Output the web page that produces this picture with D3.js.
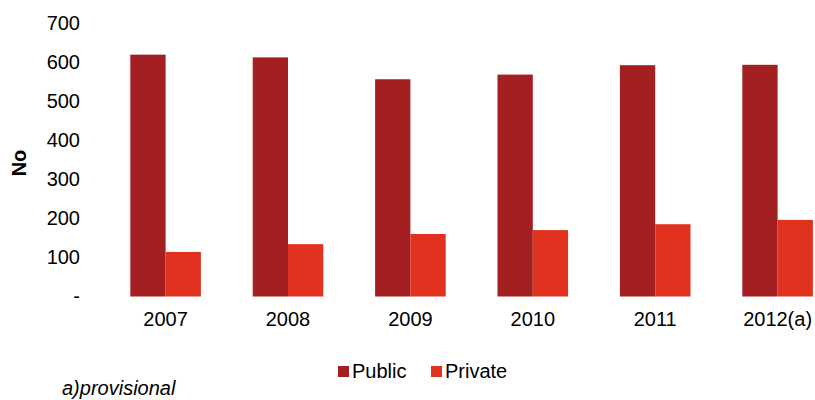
<!DOCTYPE html>
<html>
<head>
<meta charset="utf-8">
<script src="https://cdn.jsdelivr.net/npm/d3@7"></script>
<style>
  html, body { margin: 0; padding: 0; background: #fff; }
  svg { display: block; }
  text { font-family: "Liberation Sans", Arial, sans-serif; fill: #000; }
</style>
</head>
<body>
<svg id="chart" width="815" height="400"></svg>
<script>
const categories = ["2007", "2008", "2009", "2010", "2011", "2012(a)"];
const seriesNames = ["Public", "Private"];
const publicValues = [619, 612, 556, 568, 592, 593];
const privateValues = [114, 134, 160, 170, 185, 196];
const yTicks = [0, 100, 200, 300, 400, 500, 600, 700];
const yTickLabels = ["-", "100", "200", "300", "400", "500", "600", "700"];
const colors = ["#A31F22", "#E0321F"];
const yTitle = "No";
const footnote = "a)provisional";

const svg = d3.select("#chart");
const fontSize = 20;

const x = d3.scaleBand().domain(categories).range([104.4, 838.8]).padding(0);
const xs = d3.scaleBand().domain(seriesNames).range([25.9, 96.5]).padding(0);
const y = d3.scaleLinear().domain([0, 700]).range([296.5, 23]);

const data = categories.map((c, i) => ({ cat: c, vals: [publicValues[i], privateValues[i]] }));

// bars
const groups = svg.append("g").selectAll("g").data(data).join("g")
  .attr("transform", d => `translate(${x(d.cat)},0)`);
groups.selectAll("rect").data(d => d.vals.map((v, j) => ({ s: seriesNames[j], v, j })))
  .join("rect")
  .attr("x", d => xs(d.s))
  .attr("width", xs.bandwidth())
  .attr("y", d => y(d.v))
  .attr("height", d => y(0) - y(d.v))
  .attr("fill", d => colors[d.j]);

// y axis
const yAxis = d3.axisLeft(y).tickValues(yTicks).tickFormat((d, i) => yTickLabels[i]).tickSize(0).tickPadding(0);
const yg = svg.append("g").attr("transform", "translate(80,0)").call(yAxis);
yg.select(".domain").remove();
yg.selectAll("text").style("font-size", fontSize + "px").attr("fill", "#000")
  .style("font-family", '"Liberation Sans", Arial, sans-serif');

// x axis
const xAxis = d3.axisBottom(x).tickSize(0).tickPadding(0);
const xg = svg.append("g").attr("transform", "translate(0,312)").call(xAxis);
xg.select(".domain").remove();
xg.selectAll("text").style("font-size", fontSize + "px").attr("fill", "#000")
  .style("font-family", '"Liberation Sans", Arial, sans-serif');

// y title
svg.append("text")
  .attr("transform", "translate(26,163) rotate(-90)")
  .attr("text-anchor", "middle")
  .style("font-size", fontSize + "px")
  .style("font-weight", "bold")
  .text(yTitle);

// legend
const legendX = [338, 431];
seriesNames.forEach((s, i) => {
  svg.append("rect").attr("x", legendX[i]).attr("y", 366).attr("width", 11).attr("height", 11).attr("fill", colors[i]);
  svg.append("text").attr("x", legendX[i] + 14).attr("y", 378).style("font-size", fontSize + "px").text(s);
});

// footnote
svg.append("text").attr("x", 62).attr("y", 395).style("font-size", fontSize + "px").style("font-style", "italic").text(footnote);
</script>
</body>
</html>
